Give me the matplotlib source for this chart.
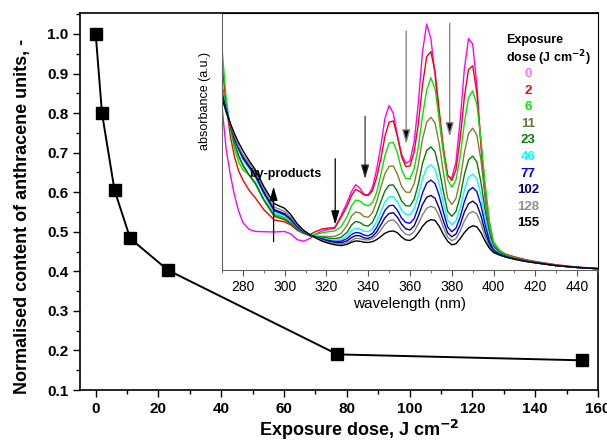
import matplotlib
matplotlib.use("Agg")
import matplotlib.pyplot as plt
from matplotlib.ticker import MultipleLocator

plt.rcParams['font.family'] = ['Liberation Sans Narrow', 'Liberation Sans', 'DejaVu Sans']

# main plot: content of anthracene units vs exposure dose
dose = [0, 2, 6, 11, 23, 77, 155]
content = [1.0, 0.80, 0.605, 0.483, 0.403, 0.19, 0.175]

# inset: absorbance spectra (a.u.)
wavelength = [270, 272, 274, 276, 278, 280,
              283, 286, 290, 295, 300, 303, 306, 309, 312,
              315, 318, 321, 324, 327, 330, 332,
              334, 336, 338, 340, 342, 344, 346, 348, 350, 352,
              354, 356, 358, 360, 362, 364, 366, 368, 370, 372,
              374, 376, 378, 380, 382, 384, 386, 388, 390, 392,
              394, 396, 398, 400, 403, 406,
              410, 415, 420, 430, 440, 450]

abs_0 = [.637, .47, .37, .29, .228, .185,
         .158, .150, .149, .148, .150, .140, .118, .112, .122,
         .140, .152, .158, .163, .212, .265, .305,
         .332, .318, .295, .292, .320, .390, .480, .590, .640, .610,
         .520, .450, .415, .425, .500, .650, .850, .957, .900, .760,
         .590, .460, .365, .358, .420, .580, .780, .900, .880, .720,
         .480, .270, .150, .095, .072, .060,
         .050, .040, .032, .020, .011, .006]
abs_2 = [.805, .64, .52, .44, .385, .35,
         .31, .28, .235, .195, .187, .175, .155, .142, .138,
         .150, .160, .163, .165, .205, .250, .290,
         .314, .305, .292, .290, .308, .360, .430, .520, .575, .580,
         .520, .440, .402, .405, .460, .570, .720, .830, .850, .770,
         .620, .475, .370, .348, .390, .510, .670, .780, .795, .690,
         .490, .300, .165, .100, .074, .061,
         .051, .041, .033, .020, .011, .006]
abs_6 = [.862, .67, .55, .47, .42, .39,
         .37, .34, .276, .218, .204, .185, .162, .145, .134,
         .138, .145, .149, .152, .168, .210, .250,
         .272, .268, .255, .250, .262, .300, .370, .445, .493, .497,
         .455, .390, .356, .355, .395, .480, .600, .700, .748, .705,
         .585, .455, .352, .322, .350, .440, .570, .670, .697, .645,
         .505, .335, .192, .110, .076, .059,
         .048, .038, .031, .018, .010, .005]
abs_11 = [.72, .64, .56, .49, .44, .405,
          .368, .338, .274, .213, .199, .183, .161, .144, .133,
          .131, .131, .130, .131, .142, .175, .210,
          .226, .222, .208, .205, .222, .265, .320, .375, .403, .405,
          .372, .325, .303, .302, .335, .410, .510, .575, .594, .572,
          .490, .380, .280, .255, .278, .350, .455, .530, .552, .525,
          .425, .285, .165, .100, .071, .057,
          .046, .036, .029, .017, .010, .005]
abs_23 = [.71, .635, .56, .495, .445, .41,
          .37, .335, .272, .209, .195, .180, .160, .144, .133,
          .130, .127, .124, .122, .127, .148, .175,
          .189, .185, .174, .171, .185, .220, .265, .308, .330, .331,
          .305, .268, .250, .249, .275, .335, .415, .465, .479, .460,
          .390, .305, .228, .209, .228, .285, .370, .428, .443, .420,
          .340, .230, .140, .090, .067, .055,
          .045, .036, .029, .017, .010, .005]
abs_46 = [.70, .63, .57, .51, .465, .43,
          .395, .36, .295, .224, .211, .192, .166, .147, .134,
          .129, .123, .118, .116, .119, .134, .153,
          .163, .160, .151, .149, .160, .188, .226, .265, .284, .286,
          .263, .232, .216, .215, .238, .290, .355, .398, .409, .392,
          .335, .260, .195, .176, .192, .240, .310, .360, .374, .355,
          .290, .200, .125, .083, .064, .053,
          .044, .035, .029, .017, .010, .005]
abs_77 = [.69, .625, .565, .51, .47, .435,
          .40, .365, .30, .231, .215, .195, .168, .148, .135,
          .128, .121, .115, .111, .112, .123, .138,
          .146, .144, .136, .133, .142, .165, .198, .232, .250, .252,
          .232, .202, .185, .182, .200, .245, .300, .338, .350, .336,
          .290, .225, .168, .149, .163, .205, .265, .308, .321, .305,
          .250, .175, .112, .078, .062, .052,
          .044, .035, .029, .017, .010, .005]
abs_102 = [.68, .62, .565, .515, .475, .44,
           .405, .37, .305, .235, .219, .198, .170, .150, .136,
           .128, .119, .112, .107, .106, .114, .126,
           .134, .133, .125, .123, .130, .148, .175, .203, .220, .223,
           .205, .178, .160, .156, .172, .210, .255, .283, .290, .279,
           .240, .190, .145, .129, .140, .175, .225, .258, .268, .255,
           .210, .148, .100, .073, .060, .051,
           .043, .034, .028, .017, .010, .005]
abs_128 = [.67, .615, .565, .52, .48, .45,
           .415, .38, .315, .245, .228, .205, .174, .152, .137,
           .126, .116, .108, .103, .101, .106, .115,
           .123, .122, .118, .117, .122, .135, .155, .178, .192, .195,
           .180, .155, .139, .136, .150, .180, .215, .240, .248, .241,
           .210, .165, .128, .114, .122, .150, .190, .218, .228, .218,
           .180, .130, .092, .070, .058, .050,
           .042, .034, .028, .017, .010, .005]
abs_155 = [.67, .615, .57, .53, .495, .465,
           .425, .39, .325, .258, .240, .215, .180, .155, .138,
           .124, .112, .104, .098, .095, .100, .108,
           .113, .112, .108, .107, .110, .118, .130, .143, .150, .152,
           .145, .128, .117, .115, .125, .145, .170, .188, .196, .193,
           .170, .138, .112, .098, .102, .122, .145, .163, .172, .168,
           .145, .112, .085, .068, .058, .050,
           .042, .034, .028, .017, .010, .005]

dose_labels = ['0', '2', '6', '11', '23', '46', '77', '102', '128', '155']
spectra = [abs_0, abs_2, abs_6, abs_11, abs_23, abs_46, abs_77, abs_102, abs_128, abs_155]
colors = ['#ff00ff', '#ff0000', '#00e600', '#808030', '#008000', '#00ffff',
          '#0000ff', '#000080', '#808080', '#000000']
label_colors = ['#ff70ff', '#ff0000', '#00e600', '#707040', '#008000', '#00ffff',
                '#0000ff', '#000080', '#909090', '#000000']

fig = plt.figure(figsize=(6.07, 4.43), dpi=100)

# ---- main plot ----
ax = fig.add_axes([80/607, 53/443, 518/607, 377/443])
ax.plot(dose, content, '-', color='black', lw=1.4, marker='s', ms=8, mfc='black', mec='black')
ax.set_xlim(-5, 160)
ax.set_ylim(0.1, 1.053)
ax.xaxis.set_major_locator(MultipleLocator(20))
ax.xaxis.set_minor_locator(MultipleLocator(10))
ax.yaxis.set_major_locator(MultipleLocator(0.1))
ax.yaxis.set_minor_locator(MultipleLocator(0.05))
ax.tick_params(which='both', direction='out', top=False, right=False, width=1)
ax.tick_params(which='major', length=5, labelsize=11)
ax.tick_params(which='minor', length=3)
ax.set_yticks([0.1, 0.2, 0.3, 0.4, 0.5, 0.6, 0.7, 0.8, 0.9, 1.0])
ax.set_yticklabels(['0.1', '0.2', '0.3', '0.4', '0.5', '0.6', '0.7', '0.8', '0.9', '1.0'])
for lab in ax.get_xticklabels() + ax.get_yticklabels():
    lab.set_fontweight('bold')
for sp in ax.spines.values():
    sp.set_linewidth(1.2)
ax.set_xlabel('Exposure dose, J cm$^{\\mathbf{-2}}$', fontsize=13, fontweight='bold')
ax.xaxis.set_label_coords(0.54, -0.074)
ax.set_ylabel('Normalised content of anthracene units, -', fontsize=13, fontweight='bold')
ax.yaxis.set_label_coords(-0.094, 0.46)

# ---- inset ----
ax_in = fig.add_axes([222/607, 173/443, 376/607, 257/443])
for spec, col in zip(spectra, colors):
    ax_in.plot(wavelength, spec, color=col, lw=1.0)
ax_in.set_xlim(270, 450)
ax_in.set_ylim(0, 1)
ax_in.set_yticks([])
ax_in.xaxis.set_major_locator(MultipleLocator(20))
ax_in.xaxis.set_minor_locator(MultipleLocator(10))
ax_in.tick_params(which='both', direction='out', labelsize=10, color='#555555')
ax_in.tick_params(which='major', length=4)
ax_in.tick_params(which='minor', length=2.5)
for sp in ['left', 'bottom']:
    ax_in.spines[sp].set_color('#666666')
ax_in.set_xlabel('wavelength (nm)', fontsize=11, labelpad=2)
fig.text(205/607, 1 - 101/443, 'absorbance (a.u.)', rotation=90, ha='center', va='center', fontsize=9)

# arrows and annotation
ax_in.annotate('', xy=(294.7, 0.325), xytext=(294.7, 0.11),
               arrowprops=dict(arrowstyle='-|>,head_width=0.2,head_length=0.7', color='black', lw=0.9, mutation_scale=12, shrinkA=0, shrinkB=0))
ax_in.text(300.5, 0.375, 'by-products', ha='center', va='center', fontsize=9, fontweight='bold')
ax_in.annotate('', xy=(324.2, 0.176), xytext=(324.2, 0.433),
               arrowprops=dict(arrowstyle='-|>,head_width=0.2,head_length=0.7', color='black', lw=0.9, mutation_scale=12, shrinkA=0, shrinkB=0))
ax_in.annotate('', xy=(338.5, 0.354), xytext=(338.5, 0.598),
               arrowprops=dict(arrowstyle='-|>,head_width=0.2,head_length=0.7', ec='#333333', fc='black', lw=0.9, mutation_scale=12, shrinkA=0, shrinkB=0))
ax_in.annotate('', xy=(358.2, 0.49), xytext=(358.2, 0.93),
               arrowprops=dict(arrowstyle='-|>,head_width=0.2,head_length=0.7', ec='#888888', fc='black', lw=1.0, mutation_scale=12, shrinkA=0, shrinkB=0))
ax_in.annotate('', xy=(379.0, 0.518), xytext=(379.0, 0.96),
               arrowprops=dict(arrowstyle='-|>,head_width=0.2,head_length=0.7', ec='#888888', fc='black', lw=1.0, mutation_scale=12, shrinkA=0, shrinkB=0))

# legend block
ax_in.text(0.755, 0.895, 'Exposure', transform=ax_in.transAxes, ha='left', va='center', fontsize=9, fontweight='bold')
ax_in.text(0.755, 0.824, 'dose (J cm$^{\\mathbf{-2}}$)', transform=ax_in.transAxes, ha='left', va='center', fontsize=9, fontweight='bold')
for i, (lab, col) in enumerate(zip(dose_labels, label_colors)):
    ax_in.text(0.813, 0.7615 - 0.0644 * i, lab, transform=ax_in.transAxes, ha='center', va='center',
               fontsize=9.5, fontweight='bold', color=col)

fig.savefig('out.png', dpi=100)
